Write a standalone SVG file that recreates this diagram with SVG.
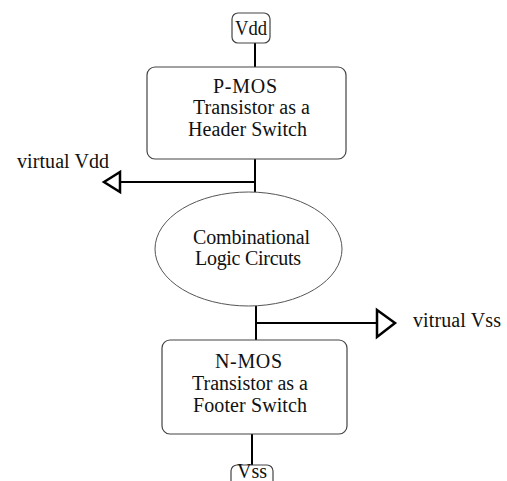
<svg xmlns="http://www.w3.org/2000/svg" width="507" height="481" viewBox="0 0 507 481">
<style>
.box{fill:#fff;stroke:#444;stroke-width:1.2}
.ell{fill:#fff;stroke:#555;stroke-width:1}
.wire{fill:none;stroke:#000;stroke-width:2}
.tri{fill:none;stroke:#000;stroke-width:2.5;stroke-linejoin:miter}
text{font-family:"Liberation Serif","Times New Roman",serif;font-size:20px;fill:#111}
</style>
<rect width="507" height="481" fill="#fff"/>
<g id="connectors">
<line class="wire" x1="255" y1="43" x2="255" y2="67"/>
<line class="wire" x1="255" y1="159" x2="255" y2="192"/>
<line class="wire" x1="255" y1="182" x2="120" y2="182"/>
<polygon class="tri" points="104,182 120,172 120,192"/>
<line class="wire" x1="256" y1="306" x2="256" y2="340"/>
<line class="wire" x1="256" y1="323" x2="377" y2="323"/>
<polygon class="tri" points="377,310 395,323 377,337"/>
<line class="wire" x1="252" y1="434" x2="252" y2="466"/>
</g>
<g id="vdd">
<rect class="box" x="232" y="13" width="38" height="30" rx="6"/>
<text x="251" y="35" text-anchor="middle" textLength="32" lengthAdjust="spacingAndGlyphs">Vdd</text>
</g>
<g id="pmos">
<rect class="box" x="147" y="67" width="199" height="92" rx="8"/>
<text x="213" y="93" textLength="64">P-MOS</text>
<text x="193" y="114" textLength="117">Transistor as a</text>
<text x="188" y="136" textLength="119">Header Switch</text>
</g>
<g id="virtual-vdd">
<text x="17" y="168" textLength="92">virtual Vdd</text>
</g>
<g id="logic">
<ellipse class="ell" cx="248.5" cy="249" rx="93.5" ry="57"/>
<text x="193" y="244" font-size="19" textLength="117">Combinational</text>
<text x="195" y="265" font-size="19" textLength="106">Logic Circuts</text>
</g>
<g id="virtual-vss">
<text x="413" y="327" textLength="88">vitrual Vss</text>
</g>
<g id="nmos">
<rect class="box" x="162" y="340" width="185" height="94" rx="8"/>
<text x="215" y="368" textLength="67">N-MOS</text>
<text x="192" y="390" textLength="116">Transistor as a</text>
<text x="193" y="412" textLength="114">Footer Switch</text>
</g>
<g id="vss">
<rect class="box" x="231" y="465" width="42" height="30" rx="6"/>
<text x="252" y="478" text-anchor="middle" font-size="15" textLength="30" lengthAdjust="spacingAndGlyphs">Vss</text>
</g>
</svg>
